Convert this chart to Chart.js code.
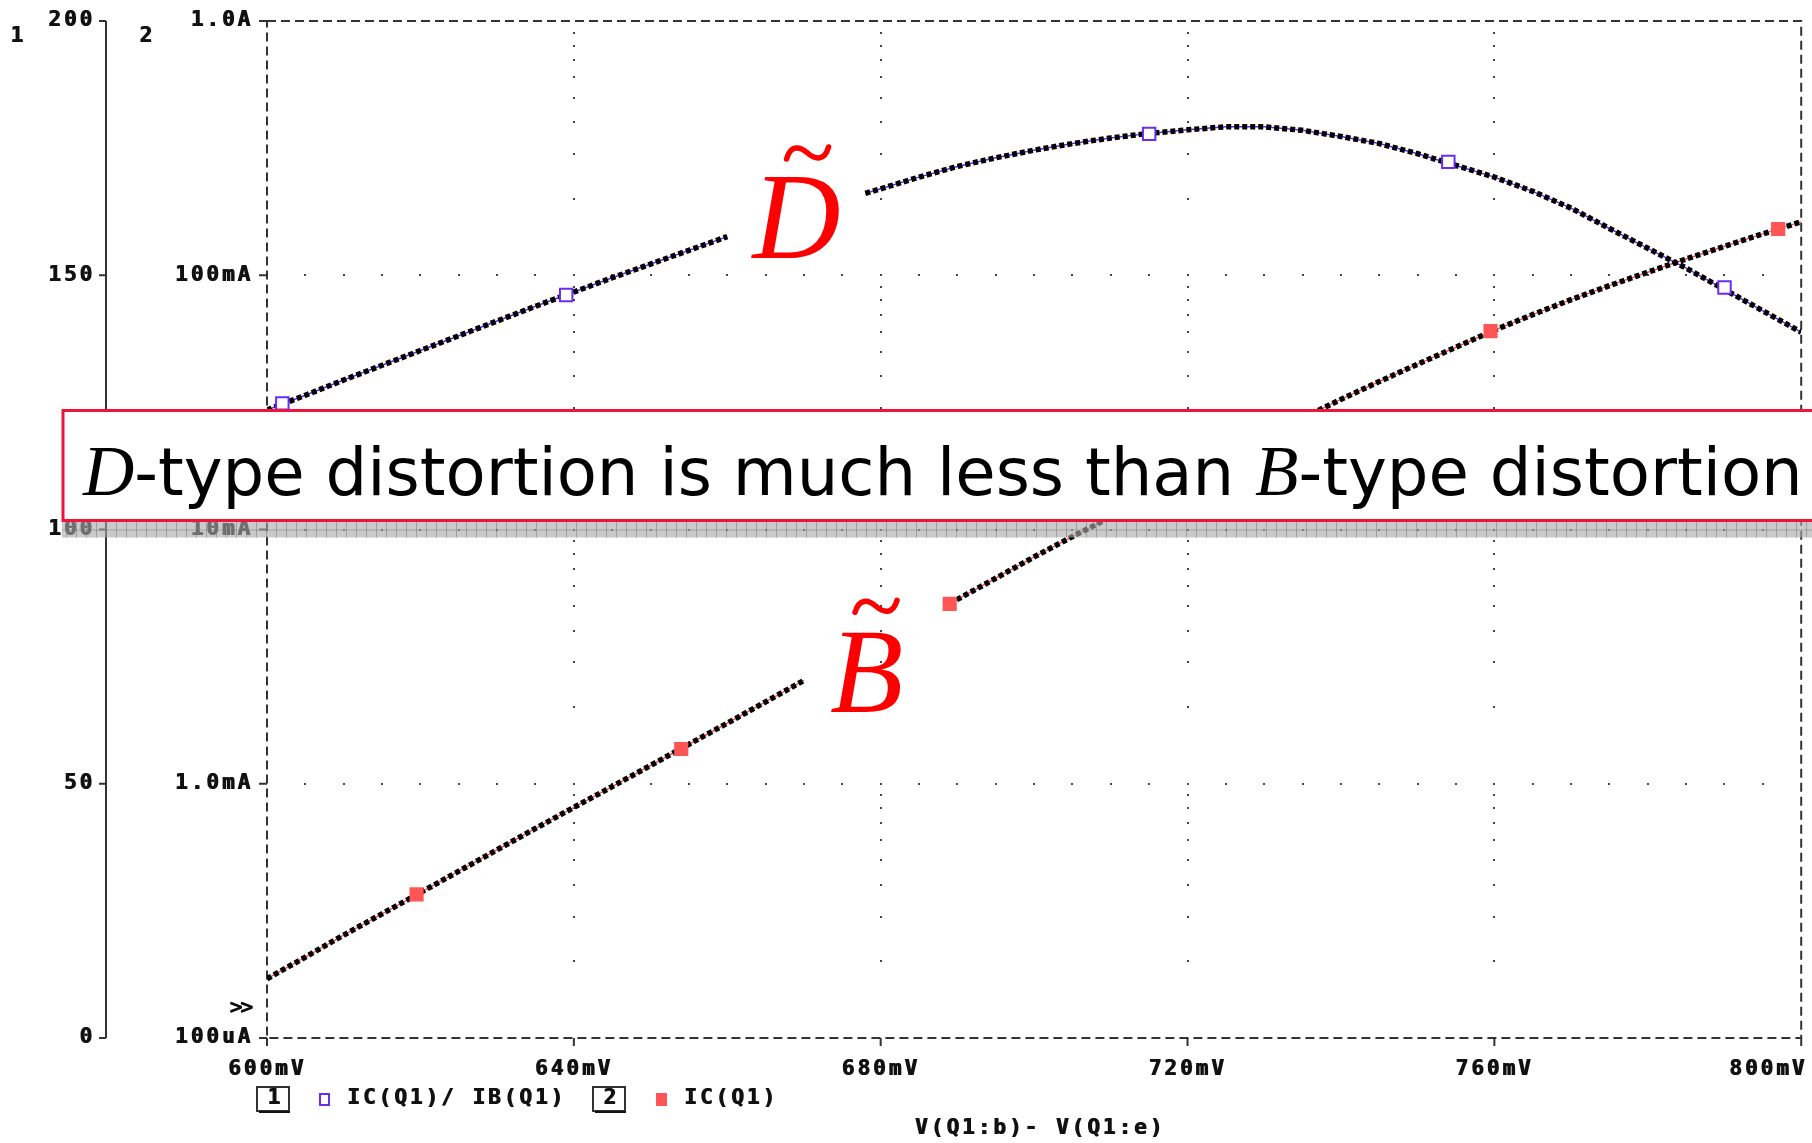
<!DOCTYPE html>
<html>
<head>
<meta charset="utf-8">
<script src="https://cdn.jsdelivr.net/npm/chart.js@4"></script>
<style>
  html, body { margin: 0; padding: 0; background: #fff; }
  #grafico { display: block; }
</style>
</head>
<body>
<canvas id="grafico" width="1812" height="1143"></canvas>
<script>
const xTicks = [600, 640, 680, 720, 760, 800];
const xTickLabels = ['600mV', '640mV', '680mV', '720mV', '760mV', '800mV'];
const betaTicks = [0, 50, 100, 150, 200];
const betaTickLabels = ['0', '50', '100', '150', '200'];
const icTicks = [1e-4, 1e-3, 1e-2, 1e-1, 1];
const icTickLabels = ['100uA', '1.0mA', '10mA', '100mA', '1.0A'];

// IC(Q1)/IB(Q1) - trace 1
const betaMv = [600, 605, 610, 615, 620, 625, 630, 635, 640, 645, 650, 655, 660, 665,
  678, 680, 685, 690, 695, 700, 705, 710, 715, 720, 725, 730, 735, 740, 745, 750,
  755, 760, 765, 770, 775, 780, 785, 790, 795, 800];
const beta = [123.5, 126.4, 129.4, 132.3, 135.2, 138.1, 141.0, 143.9, 146.7, 149.5, 152.2, 154.9, 157.6, null,
  166.1, 167.0, 169.3, 171.4, 173.1, 174.6, 175.9, 177.0, 177.9, 178.6, 179.2, 179.2, 178.5, 177.3, 175.9, 173.9,
  171.6, 169.3, 166.5, 163.2, 159.2, 155.3, 151.4, 147.2, 143.0, 138.8];

// IC(Q1) - trace 2
const icMv = [600, 605, 610, 615, 620, 625, 630, 635, 640, 645, 650, 655, 660, 665, 670, 675,
  689, 690, 695, 700, 705, 710, 715, 720, 725, 730, 735, 740, 745, 750, 755, 760,
  765, 770, 775, 780, 785, 790, 795, 800];
const ic = [1.71e-4, 2.08e-4, 2.54e-4, 3.08e-4, 3.73e-4, 4.53e-4, 5.50e-4, 6.67e-4, 8.07e-4, 9.75e-4,
  1.18e-3, 1.43e-3, 1.73e-3, 2.10e-3, 2.55e-3, null,
  5.12e-3, 5.31e-3, 6.43e-3, 7.80e-3, 9.38e-3, 1.12e-2, 1.34e-2, 1.60e-2, 1.92e-2, 2.29e-2,
  2.74e-2, 3.25e-2, 3.82e-2, 4.47e-2, 5.21e-2, 6.08e-2, 7.00e-2, 8.02e-2, 9.10e-2, 0.1028,
  0.1159, 0.1300, 0.1455, 0.1622];

const betaMarkMv = [602, 639, 715, 754, 790];
const betaMark = [124.8, 146.1, 177.8, 172.3, 147.6];
const icMarkMv = [619.5, 654, 689, 759.5, 797];
const icMark = [3.67e-4, 1.37e-3, 5.1e-3, 6.03e-2, 0.152];

const corBeta = '#6a2cf0';
const corIc = '#ff5555';
const fonteMono = 'bold 21px "DejaVu Sans Mono", monospace';

function pontos(xs, ys) {
  return xs.map((x, i) => ({ x: x, y: ys[i] }));
}

// texto em negrito "de tela": desenha duas vezes, deslocado 1px
function rotulo(ctx, s, x, y, align) {
  ctx.textAlign = align;
  ctx.fillText(s, x, y);
  ctx.fillText(s, x + 1, y);
}

function til(ctx, cx, cy) {
  ctx.beginPath();
  ctx.moveTo(cx - 21, cy + 6);
  ctx.bezierCurveTo(cx - 17, cy - 8, cx - 8, cy - 7, cx, cy);
  ctx.bezierCurveTo(cx + 8, cy + 7, cx + 17, cy + 8, cx + 21, cy - 6);
  ctx.stroke();
}

const decoracoes = {
  id: 'decoracoes',
  beforeDatasetsDraw(chart) {
    const { ctx, chartArea: a, scales } = chart;
    const x = scales.x, yB = scales.yB, yI = scales.yI;
    ctx.save();

    // grade pontilhada
    ctx.fillStyle = '#444';
    xTicks.slice(1, -1).forEach(v => {
      const px = Math.round(x.getPixelForValue(v));
      for (let dec = -4; dec < 0; dec++) {
        for (let d = 1; d <= 9; d++) {
          const val = d * Math.pow(10, dec);
          if (val <= 1e-4) continue;
          ctx.fillRect(px - 1, Math.round(yI.getPixelForValue(val)) - 1, 2, 2);
        }
      }
    });
    icTicks.slice(1, -1).forEach(v => {
      const py = Math.round(yI.getPixelForValue(v));
      for (let mv = 605; mv < 800; mv += 5) {
        ctx.fillRect(Math.round(x.getPixelForValue(mv)) - 1, py - 1, 2, 2);
      }
    });

    // moldura tracejada
    ctx.strokeStyle = '#333';
    ctx.lineWidth = 2;
    ctx.setLineDash([9, 5]);
    ctx.strokeRect(a.left, a.top, a.right - a.left, a.bottom - a.top);
    ctx.setLineDash([]);

    // marcas
    ctx.beginPath();
    xTicks.forEach(v => {
      const px = x.getPixelForValue(v);
      ctx.moveTo(px, a.bottom);
      ctx.lineTo(px, a.bottom + 8);
    });
    icTicks.forEach(v => {
      const py = yI.getPixelForValue(v);
      ctx.moveTo(a.left - 8, py);
      ctx.lineTo(a.left, py);
    });
    const eixo1 = a.left - 161;
    ctx.moveTo(eixo1, yB.getPixelForValue(200));
    ctx.lineTo(eixo1, yB.getPixelForValue(0));
    betaTicks.forEach(v => {
      const py = yB.getPixelForValue(v);
      ctx.moveTo(eixo1 - 7, py);
      ctx.lineTo(eixo1, py);
    });
    ctx.stroke();

    // textos dos eixos
    ctx.fillStyle = '#111';
    ctx.font = fonteMono;
    ctx.letterSpacing = '3px';
    ctx.textBaseline = 'middle';
    xTicks.forEach((v, i) => {
      const ultimo = i === xTicks.length - 1;
      rotulo(ctx, xTickLabels[i], x.getPixelForValue(v) + (ultimo ? 6 : 0), a.bottom + 32, ultimo ? 'right' : 'center');
    });
    icTicks.forEach((v, i) => rotulo(ctx, icTickLabels[i], a.left - 14, yI.getPixelForValue(v), 'right'));
    betaTicks.forEach((v, i) => rotulo(ctx, betaTickLabels[i], eixo1 - 11, yB.getPixelForValue(v), 'right'));
    rotulo(ctx, '1', 18, a.top + 16, 'center');
    rotulo(ctx, '2', 147, a.top + 16, 'center');
    ctx.letterSpacing = '-2px';
    rotulo(ctx, '>>', a.left - 27, yI.getPixelForValue(1.31e-4), 'center');
    ctx.letterSpacing = '3px';

    // legenda
    const ly = a.bottom + 61;
    ctx.lineWidth = 2;
    ctx.strokeRect(257, ly - 12, 32, 24);
    ctx.fillRect(259, ly + 12, 31, 2);
    rotulo(ctx, '1', 275, ly, 'center');
    ctx.strokeStyle = corBeta;
    ctx.strokeRect(320, ly - 5, 9, 11);
    rotulo(ctx, 'IC(Q1)/ IB(Q1)', 347, ly, 'left');
    ctx.strokeStyle = '#333';
    ctx.strokeRect(593, ly - 12, 32, 24);
    ctx.fillRect(595, ly + 12, 31, 2);
    rotulo(ctx, '2', 611, ly, 'center');
    ctx.fillStyle = corIc;
    ctx.fillRect(656, ly - 6, 11, 13);
    ctx.fillStyle = '#111';
    rotulo(ctx, 'IC(Q1)', 684, ly, 'left');
    rotulo(ctx, 'V(Q1:b)- V(Q1:e)', 1040, a.bottom + 91, 'center');

    ctx.restore();
  },
  afterDatasetsDraw(chart) {
    const { ctx, chartArea: a, scales } = chart;
    const x = scales.x, yB = scales.yB, yI = scales.yI;
    ctx.save();

    // faixa cinza
    const fy = yI.getPixelForValue(1e-2);
    ctx.fillStyle = 'rgba(170,170,170,0.62)';
    ctx.fillRect(62, fy - 8, 1812 - 62, 16);
    ctx.strokeStyle = 'rgba(110,110,110,0.45)';
    ctx.lineWidth = 1;
    ctx.beginPath();
    for (let px = 66.5; px < 1812; px += 10) {
      ctx.moveTo(px, fy - 8);
      ctx.lineTo(px, fy + 8);
    }
    ctx.moveTo(62, fy + 0.5);
    ctx.lineTo(1812, fy + 0.5);
    ctx.stroke();

    // caixa do texto
    ctx.fillStyle = '#fff';
    ctx.fillRect(62, fy - 120, 1800, 112);
    ctx.strokeStyle = '#f0143c';
    ctx.lineWidth = 3;
    ctx.strokeRect(63, fy - 119, 1800, 110);

    const partes = [
      ['D', true], ['-type distortion is much less than ', false],
      ['B', true], ['-type distortion', false]
    ];
    const fonte = (ital, s) => ital ? `italic ${s * 1.08}px "Liberation Serif", serif` : `${s}px "DejaVu Sans", sans-serif`;
    let larg = 0;
    partes.forEach(p => { ctx.font = fonte(p[1], 100); larg += ctx.measureText(p[0]).width; });
    const tam = 100 * 1720 / larg;
    let tx = 83;
    ctx.fillStyle = '#000';
    ctx.textBaseline = 'alphabetic';
    ctx.textAlign = 'left';
    partes.forEach(p => {
      ctx.font = fonte(p[1], tam);
      ctx.fillText(p[0], tx, fy - 35);
      tx += ctx.measureText(p[0]).width;
    });

    // rotulos D~ e B~
    ctx.fillStyle = '#ff0000';
    ctx.strokeStyle = '#ff0000';
    const dx = x.getPixelForValue(663.3), dy = yB.getPixelForValue(153.4);
    ctx.font = 'italic 122px "Liberation Serif", serif';
    ctx.fillText('D', dx, dy);
    const bx = x.getPixelForValue(673.4), by = yI.getPixelForValue(1.91e-3);
    ctx.font = 'italic 120px "Liberation Serif", serif';
    ctx.fillText('B', bx, by);
    ctx.lineWidth = 5.5;
    ctx.lineCap = 'round';
    til(ctx, dx + 55, dy - 105);
    til(ctx, bx + 46, by - 106);

    ctx.restore();
  }
};

function gerarGrafico() {
  const ctx = document.getElementById('grafico').getContext('2d');

  new Chart(ctx, {
    type: 'line',
    data: {
      datasets: [
        {
          data: pontos(betaMarkMv, betaMark),
          yAxisID: 'yB',
          showLine: false,
          pointStyle: 'rect',
          pointRadius: 8.8,
          pointBorderWidth: 2,
          pointBorderColor: corBeta,
          pointBackgroundColor: '#fff',
          order: 0
        },
        {
          data: pontos(icMarkMv, icMark),
          yAxisID: 'yI',
          showLine: false,
          pointStyle: 'rect',
          pointRadius: 10,
          pointBorderWidth: 0,
          pointBackgroundColor: corIc,
          order: 0
        },
        {
          label: 'IC(Q1)/ IB(Q1)',
          data: pontos(betaMv, beta),
          yAxisID: 'yB',
          borderColor: '#000',
          borderWidth: 5.5,
          borderDash: [5, 3],
          pointRadius: 0,
          spanGaps: false,
          order: 1
        },
        {
          label: 'IC(Q1)',
          data: pontos(icMv, ic),
          yAxisID: 'yI',
          borderColor: '#000',
          borderWidth: 5.5,
          borderDash: [5, 3],
          pointRadius: 0,
          spanGaps: false,
          order: 1
        },
        {
          data: pontos(betaMv, beta),
          yAxisID: 'yB',
          borderColor: corBeta,
          borderWidth: 1.5,
          pointRadius: 0,
          spanGaps: false,
          order: 2
        },
        {
          data: pontos(icMv, ic),
          yAxisID: 'yI',
          borderColor: corIc,
          borderWidth: 1.5,
          pointRadius: 0,
          spanGaps: false,
          order: 2
        }
      ]
    },
    options: {
      responsive: false,
      devicePixelRatio: 1,
      animation: false,
      events: [],
      layout: {
        padding: { left: 267, right: 6, top: 21, bottom: 105 }
      },
      scales: {
        x: { type: 'linear', min: 600, max: 800, display: false },
        yB: { type: 'linear', min: 0, max: 200, display: false },
        yI: { type: 'logarithmic', min: 1e-4, max: 1, display: false }
      },
      plugins: {
        legend: { display: false },
        tooltip: { enabled: false }
      }
    },
    plugins: [decoracoes]
  });
}

window.onload = gerarGrafico;
</script>
</body>
</html>
